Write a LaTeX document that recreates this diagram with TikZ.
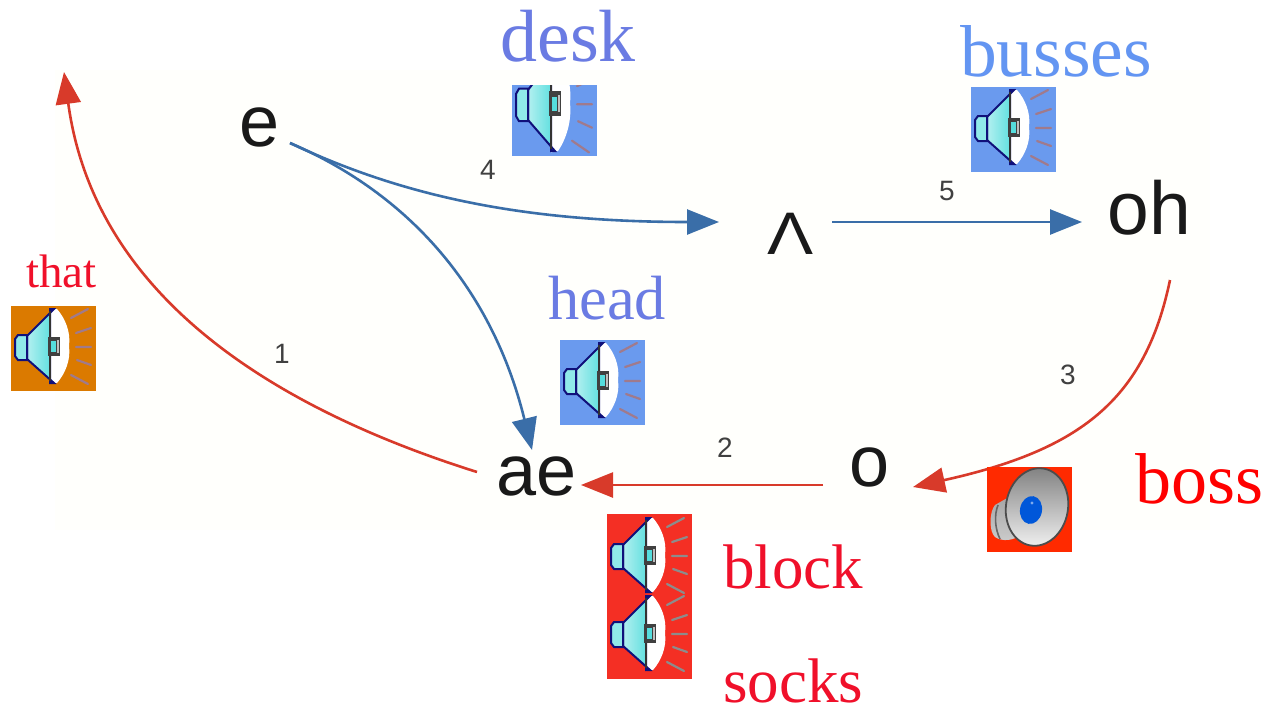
\documentclass[tikz,border=0pt]{standalone}
\usepackage{fontspec}
\setmainfont{Liberation Serif}
\newfontfamily\lsans{Liberation Sans}
\usetikzlibrary{arrows.meta}
\definecolor{wblue}{HTML}{6A7BE3}
\definecolor{bblue}{HTML}{6395F2}
\definecolor{wred}{HTML}{F0102A}
\definecolor{bxblue}{HTML}{6A9AEE}
\definecolor{bxred}{HTML}{F42F24}
\definecolor{bxorange}{HTML}{DB7A00}
\definecolor{bxpure}{HTML}{FF2A00}
\definecolor{arblue}{HTML}{3A6EA8}
\definecolor{arred}{HTML}{D83A2A}
\definecolor{conecyan}{HTML}{55DDDD}
\definecolor{mauve}{HTML}{A07A8C}
\definecolor{navyline}{HTML}{10107A}
\definecolor{paper}{HTML}{FFFFFC}
\tikzset{
  x=1pt,y=-1pt,
  vowel/.style={inner sep=0pt,font=\lsans\fontsize{72}{72}\selectfont,text=black!90},
  num/.style={inner sep=0pt,font=\lsans\fontsize{28}{28}\selectfont,text=black!75},
  word/.style={inner sep=0pt,anchor=base west},
  bluearrow/.style={draw=arblue,line width=2.6pt,-{Triangle[length=32pt,width=25pt,fill=arblue]}},
  redarrow/.style={draw=arred,line width=2.6pt,-{Triangle[length=32pt,width=25pt,fill=arred]}},
  pics/speaker/.style n args={5}{code={
    \fill[#1] (0,0) rectangle (85,#2);
    \begin{scope}
    \clip (0,0) rectangle (85,#2);
    \begin{scope}[shift={(0,#5)},yscale=#4]
    \fill[white] (39,2) -- (46,3) .. controls (54,12) and (60,26) .. (58,40) .. controls (60,54) and (54,68) .. (46,77) -- (39,78) -- cycle;
    \filldraw[draw=navyline,line width=2pt,left color=conecyan!45!white,right color=conecyan] (16,30) -- (43,3) -- (39,3) -- (39,77) -- (43,77) -- (16,53) -- cycle;
    \filldraw[draw=navyline,line width=2pt,fill=conecyan!65!white] (16,29) -- (7,29) -- (4,33) -- (4,50) -- (7,54) -- (16,54) -- cycle;
    \draw[black!80,line width=1.8pt] (39,5) -- (39,75);
    \fill[black!75] (37,31) rectangle (49,50);
    \fill[black!25] (46,34) rectangle (48,47);
    \fill[conecyan] (40,35) rectangle (45,46);
    \draw[#3,line width=2.2pt,line cap=round]
      (60,12) -- (77,3) (65,27) -- (80,22) (65,41) -- (80,41)
      (66,54) -- (80,59) (60,69) -- (77,78);
    \end{scope}
    \end{scope}
  }}
}
\begin{document}
\begin{tikzpicture}
\useasboundingbox (0,0) rectangle (1268,707);
\fill[white] (0,0) rectangle (1268,707);
\fill[paper] (55,70) rectangle (1210,530);
% vowels
\node[vowel] (e) at (260,127) {e};
\node[vowel,font=\lsans\fontsize{60}{60}\selectfont] (wedge) at (791,234) {\scalebox{1.15}[1]{Λ}};
\node[vowel,font=\lsans\fontsize{75}{75}\selectfont] (oh) at (1149,208) {oh};
\node[vowel] (o) at (870,467) {o};
\node[vowel] (ae) at (537,476) {ae};
\coordinate (top) at (64,72);
% numbers
\node[num] (n1) at (282,354) {1};
\node[num] (n2) at (725,448) {2};
\node[num] (n3) at (1068,375) {3};
\node[num] (n4) at (488,170) {4};
\node[num] (n5) at (947,191) {5};
% connectors
\draw[bluearrow] ([shift={(30,16)}]e.center) .. controls (400,195) and (520,222) .. ([shift={(-72,-12)}]wedge.center);
\draw[bluearrow] ([shift={(30,16)}]e.center) .. controls (400,190) and (490,280) .. ([shift={(-5,-26)}]ae.center);
\draw[bluearrow] ([shift={(41,-12)}]wedge.center) -- ([shift={(-67,14)}]oh.center);
\draw[redarrow] ([shift={(21,72)}]oh.center) .. controls (1145,400) and (1080,450) .. ([shift={(43,20)}]o.center);
\draw[redarrow] ([shift={(-47,18)}]o.center) -- ([shift={(44,9)}]ae.center);
\draw[redarrow] ([shift={(-60,-4)}]ae.center) .. controls (280,410) and (95,300) .. (top);
% words
\node[word,text=wblue,font=\fontsize{74}{74}\selectfont] (desk) at (500,61) {desk};
\node[word,text=bblue,font=\fontsize{73.5}{73.5}\selectfont] (busses) at (960,76) {busses};
\node[word,text=wblue,font=\fontsize{62.5}{62.5}\selectfont] (head) at (548,319) {head};
\node[word,text=wred,font=\fontsize{47}{47}\selectfont] (that) at (26,287) {that};
\node[word,text=red,font=\fontsize{72}{72}\selectfont] (boss) at (1135,503) {boss};
\node[word,text=wred,font=\fontsize{63}{63}\selectfont] (block) at (723,588) {block};
\node[word,text=wred,font=\fontsize{63}{63}\selectfont] (socks) at (723,702) {socks};
% speakers
\pic at (512,85) {speaker={bxblue}{71}{mauve}{1.3}{-34}};
\pic at (971,87) {speaker={bxblue}{85}{mauve}{1}{0}};
\pic at (560,340) {speaker={bxblue}{85}{mauve}{1}{0}};
\pic at (11,306) {speaker={bxorange}{85}{mauve}{1}{0}};
\pic at (607,593) {speaker={bxred}{86}{black!45}{1}{0}};
\pic at (607,514) {speaker={bxred}{79}{black!45}{1}{1}};
% modern speaker
\fill[bxpure] (987,467) rectangle (1072,552);
\begin{scope}[shift={(987,467)}]
\shade[top color=black!35,bottom color=black!20] (22,30) -- (8,38) .. controls (2,45) and (2,65) .. (8,70) .. controls (15,75) and (28,74) .. (36,66) -- cycle;
\draw[black!60,line width=1.6pt] (11,38) .. controls (7,48) and (8,62) .. (13,72);
\shade[top color=black!50,bottom color=black!5,draw=black!70,line width=1.8pt,rotate around={-10:(50,40)}] (50,40) ellipse [x radius=31,y radius=39];
\fill[blue!60!cyan!85!black,rotate around={-10:(44,43)}] (44,43) ellipse [x radius=11,y radius=14];
\fill[white,opacity=.5] (45,36) circle [radius=1.6];
\end{scope}
\end{tikzpicture}
\end{document}
